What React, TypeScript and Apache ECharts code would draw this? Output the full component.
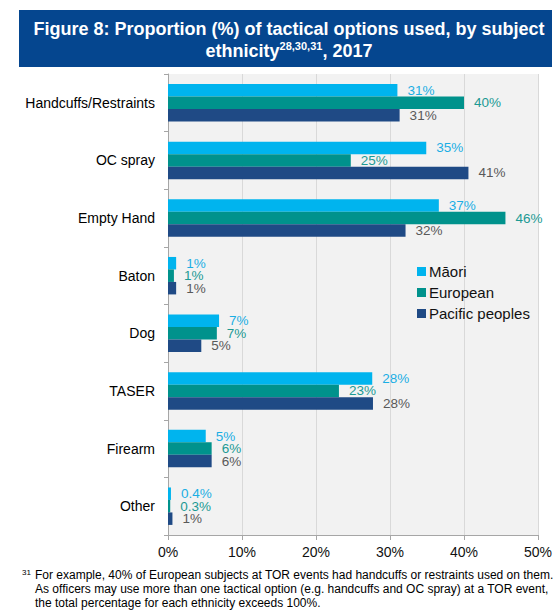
import React, { useEffect, useRef } from "react";
import * as echarts from "echarts";

const categories = [
  "Handcuffs/Restraints",
  "OC spray",
  "Empty Hand",
  "Baton",
  "Dog",
  "TASER",
  "Firearm",
  "Other",
];
const seriesNames = ["Māori", "European", "Pacific peoples"];
const maori = [31.0, 34.9, 36.6, 1.1, 6.9, 27.6, 5.1, 0.4];
const european = [40.0, 24.7, 45.6, 0.8, 6.6, 23.1, 5.9, 0.3];
const pacific = [31.3, 40.6, 32.1, 1.1, 4.5, 27.7, 5.9, 0.6];
const maoriLabels = ["31%", "35%", "37%", "1%", "7%", "28%", "5%", "0.4%"];
const europeanLabels = ["40%", "25%", "46%", "1%", "7%", "23%", "6%", "0.3%"];
const pacificLabels = ["31%", "41%", "32%", "1%", "5%", "28%", "6%", "1%"];
const xTicks = [0, 10, 20, 30, 40, 50];

const titleLine1 = "Figure 8: Proportion (%) of tactical options used, by subject";
const titleLine2 = "ethnicity{sup|28,30,31}, 2017";
const footnoteMark = "31";
const footnoteLines = [
  "For example, 40% of European subjects at TOR events had handcuffs or restraints used on them.",
  "As officers may use more than one tactical option (e.g. handcuffs and OC spray) at a TOR event,",
  "the total percentage for each ethnicity exceeds 100%.",
];

const FONT = "'Liberation Sans', Arial, sans-serif";
const barColors = ["#00B4EE", "#00928C", "#1F4A85"];
const labelColors = ["#1AAEE4", "#1C9A94", "#595959"];

export default function App() {
  const ref = useRef<HTMLDivElement>(null);
  useEffect(() => {
    if (!ref.current) return;
    const chart = echarts.init(ref.current, undefined, { renderer: "svg" });
    const values = [maori, european, pacific];
    const labels = [maoriLabels, europeanLabels, pacificLabels];
    const option: any = {
      animation: false,
      textStyle: { fontFamily: FONT },
      grid: {
        left: 168,
        right: 21,
        top: 74,
        bottom: 78,
        show: true,
        backgroundColor: "#F2F2F2",
        borderWidth: 0,
        containLabel: false,
      },
      legend: {
        orient: "vertical",
        left: 412,
        top: 259,
        icon: "rect",
        itemWidth: 9,
        itemHeight: 9,
        itemGap: 6,
        data: seriesNames,
        textStyle: { fontSize: 15, color: "#111", fontFamily: FONT, padding: [0, 0, 0, -2] },
      },
      xAxis: {
        type: "value",
        min: 0,
        max: 50,
        interval: 10,
        axisLine: { show: true, lineStyle: { color: "#A6A6A6", width: 1 } },
        axisTick: { show: true, length: 5, lineStyle: { color: "#A6A6A6" } },
        splitLine: { show: true, lineStyle: { color: "#D9D9D9", width: 1 } },
        axisLabel: {
          fontSize: 14,
          color: "#111",
          margin: 10,
          fontFamily: FONT,
          formatter: (v: number) => (xTicks.includes(v) ? v + "%" : ""),
        },
      },
      yAxis: {
        type: "category",
        data: categories,
        inverse: true,
        axisLine: { show: true, lineStyle: { color: "#A6A6A6", width: 1 } },
        axisTick: { show: true, length: 4, inside: false, lineStyle: { color: "#A6A6A6" } },
        axisLabel: { fontSize: 14, color: "#000", margin: 13, fontFamily: FONT },
      },
      series: values.map((vals, i) => ({
        name: seriesNames[i],
        type: "bar",
        data: vals,
        barGap: "0%",
        barCategoryGap: "35%",
        itemStyle: { color: barColors[i] },
        label: {
          show: true,
          position: "right",
          distance: 10,
          fontSize: 13.5,
          lineHeight: 12,
          color: labelColors[i],
          fontFamily: FONT,
          formatter: (p: any) => labels[i][p.dataIndex],
        },
      })),
      graphic: [
        {
          type: "rect",
          shape: { x: 19, y: 10, width: 533, height: 57 },
          style: { fill: "#05468F" },
          silent: true,
        },
        {
          type: "text",
          x: 289,
          y: 29,
          style: {
            text: titleLine1,
            fill: "#fff",
            font: `bold 18px ${FONT}`,
            align: "center",
            verticalAlign: "middle",
          },
        },
        {
          type: "text",
          x: 289,
          y: 51,
          style: {
            text: titleLine2,
            fill: "#fff",
            font: `bold 18px ${FONT}`,
            align: "center",
            verticalAlign: "middle",
            rich: {
              sup: {
                fontSize: 11,
                fontWeight: "bold",
                fill: "#fff",
                fontFamily: FONT,
                padding: [0, 0, 10, 0],
              },
            },
          },
        },
        {
          type: "text",
          x: 22,
          y: 568,
          style: { text: footnoteMark, fill: "#000", font: `8px ${FONT}` },
        },
        ...footnoteLines.map((t, i) => ({
          type: "text",
          x: 35,
          y: 575 + i * 14,
          style: { text: t, fill: "#000", font: `12px ${FONT}`, verticalAlign: "middle" },
        })),
      ],
    };
    chart.setOption(option);
    return () => chart.dispose();
  }, []);
  return (
    <div
      ref={ref}
      style={{ position: "absolute", left: 0, top: 0, width: 559, height: 613, background: "#fff" }}
    />
  );
}
